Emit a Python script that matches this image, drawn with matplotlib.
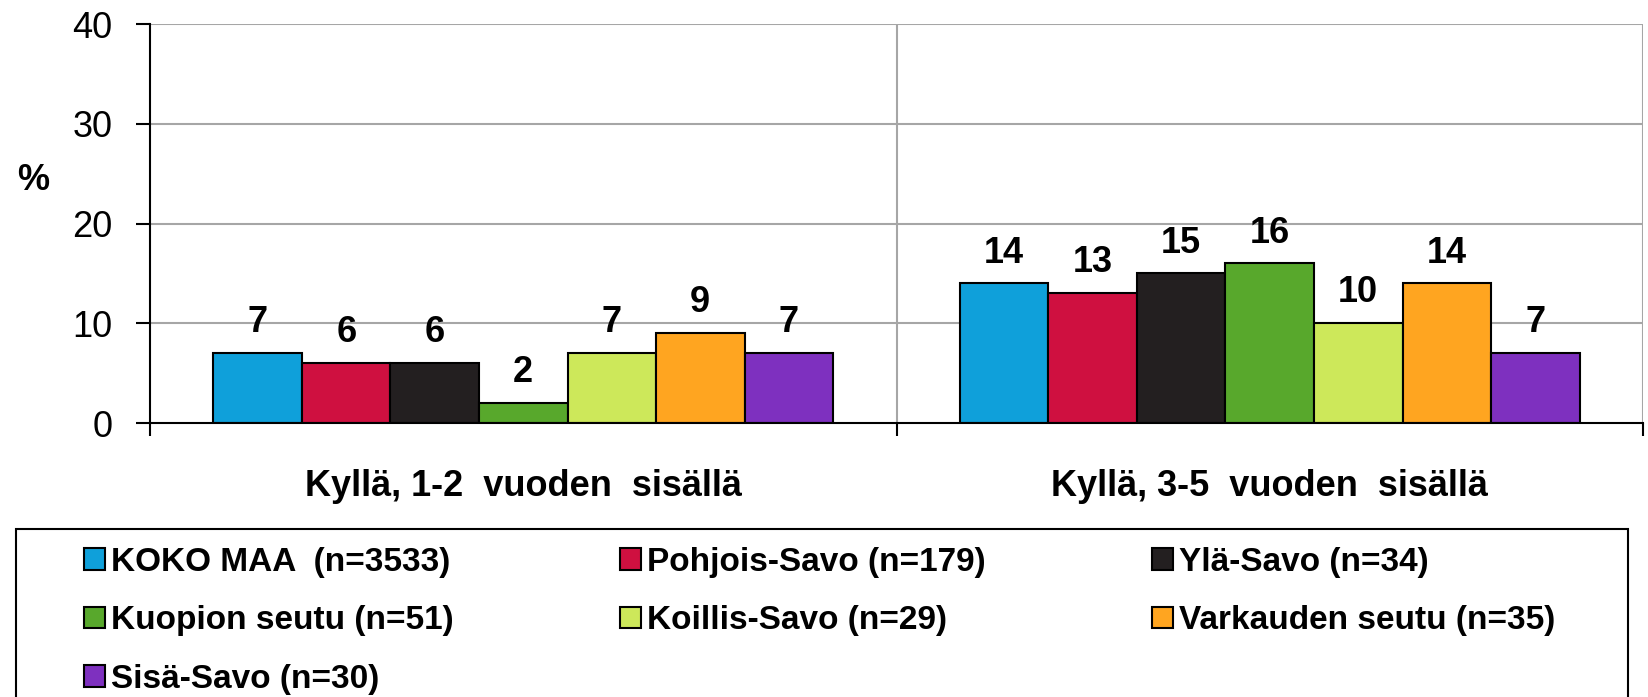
import matplotlib
matplotlib.use("Agg")
import matplotlib.pyplot as plt
from matplotlib.patches import Patch, Rectangle
import numpy as np

plt.rcParams['font.family'] = ['Liberation Sans', 'DejaVu Sans']

categories = ["Kyllä, 1-2  vuoden  sisällä", "Kyllä, 3-5  vuoden  sisällä"]
series_names = ["KOKO MAA  (n=3533)", "Pohjois-Savo (n=179)", "Ylä-Savo (n=34)",
                "Kuopion seutu (n=51)", "Koillis-Savo (n=29)", "Varkauden seutu (n=35)",
                "Sisä-Savo (n=30)"]
values = {
    "KOKO MAA  (n=3533)": [7, 14],
    "Pohjois-Savo (n=179)": [6, 13],
    "Ylä-Savo (n=34)": [6, 15],
    "Kuopion seutu (n=51)": [2, 16],
    "Koillis-Savo (n=29)": [7, 10],
    "Varkauden seutu (n=35)": [9, 14],
    "Sisä-Savo (n=30)": [7, 7],
}
colors = ["#0FA0DA", "#CF1040", "#231F20", "#58A82C", "#CDE85A", "#FFA520", "#7E30BF"]
yticks = [0, 10, 20, 30, 40]

W, H = 1648, 697
fig = plt.figure(figsize=(W / 100, H / 100), dpi=100)
ax = fig.add_axes([150 / W, 1 - 423 / H, (1643 - 150) / W, (423 - 24) / H])

n = len(series_names)
bw = 0.83 / n
x = np.arange(len(categories))
for i, (name, c) in enumerate(zip(series_names, colors)):
    vals = values[name]
    xs = x + (i - (n - 1) / 2) * bw
    ax.bar(xs, vals, width=bw, color=c, edgecolor="black", linewidth=1.5, zorder=3)
    for xi, v in zip(xs, vals):
        ax.annotate(f"{v}", (xi, v), xytext=(0, 15), textcoords="offset points",
                    ha="center", va="baseline", fontsize=26, fontweight="bold", zorder=4)

ax.set_xlim(-0.5, len(categories) - 0.5)
ax.set_ylim(0, 40)
ax.set_yticks(yticks)
ax.set_yticklabels([str(t) for t in yticks])
ax.tick_params(axis="y", direction="out", length=10, width=1.5, labelsize=26, pad=17)

ax.set_xticks(np.arange(len(categories) + 1) - 0.5)
ax.set_xticklabels([])
ax.tick_params(axis="x", which="major", direction="out", length=9, width=1.5)
ax.set_xticks(x, minor=True)
ax.set_xticklabels(categories, minor=True, fontsize=26, fontweight="bold")
ax.tick_params(axis="x", which="minor", length=0, pad=33)

grid_c = "#A6A6A6"
for t in yticks[1:]:
    ax.axhline(t, color=grid_c, lw=1.5, zorder=1)
for b in np.arange(1, len(categories) + 1) - 0.5:
    ax.axvline(b, color=grid_c, lw=1.5, zorder=1)

for s in ["top", "right"]:
    ax.spines[s].set_visible(False)
for s in ["left", "bottom"]:
    ax.spines[s].set_linewidth(1.5)
    ax.spines[s].set_zorder(5)

fig.text(33 / W, 1 - 181 / H, "%", fontsize=26, fontweight="bold", ha="center", va="center")

# legend, row-major order for 3 columns
order = [0, 3, 6, 1, 4, 2, 5]
handles = [Patch(facecolor=colors[i], edgecolor="black", linewidth=1.5) for i in order]
labels = [series_names[i] for i in order]
leg = fig.legend(handles, labels, loc="upper left", bbox_to_anchor=(84 / W, 1 - 547 / H),
                 ncol=3, frameon=False, borderpad=0, borderaxespad=0,
                 prop={"size": 24, "weight": "bold"}, handlelength=0.62, handleheight=0.62,
                 handletextpad=0.18, columnspacing=5.0, labelspacing=0.82)
fig.patches.append(Rectangle((16 / W, -0.05), (1628 - 16) / W, (1 - 529 / H) + 0.05,
                             transform=fig.transFigure, fill=False, edgecolor="black",
                             linewidth=1.5))

fig.savefig("out.png", dpi=100)
